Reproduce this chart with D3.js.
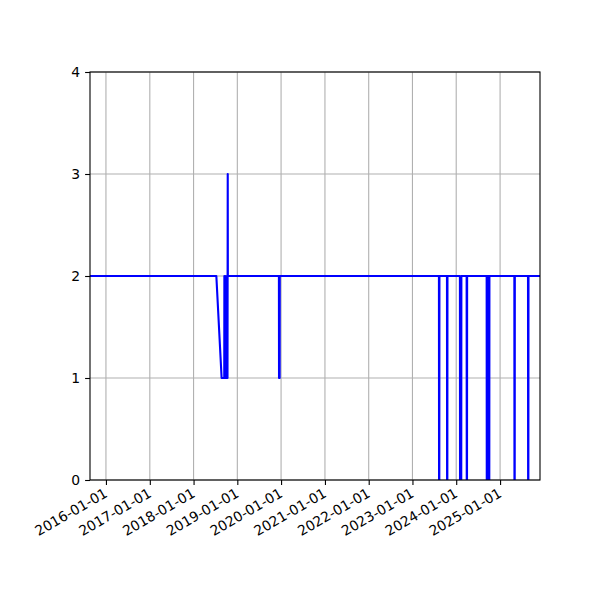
<!DOCTYPE html>
<html>
<head>
<meta charset="utf-8">
<script src="https://cdn.jsdelivr.net/npm/d3@7"></script>
<style>
  body { margin: 0; background: #fff; }
  svg { font-family: "DejaVu Sans", sans-serif; }
</style>
</head>
<body>
<div id="chart"></div>
<script>
// change points of the series (value holds until the next date, lines are drawn point to point)
const dates = [
    '2015-08-21', '2018-07-10', '2018-08-23', '2018-09-14', '2018-09-15', '2018-09-16',
    '2018-09-25', '2018-09-26', '2018-09-27', '2018-10-06', '2018-10-07', '2018-10-08',
    '2018-10-11', '2018-10-12', '2018-10-13', '2018-10-14',
    '2019-12-14', '2019-12-15', '2019-12-20', '2019-12-21',
    '2023-08-10', '2023-08-11', '2023-08-13', '2023-08-14',
    '2023-10-16', '2023-10-17', '2023-10-19', '2023-10-20',
    '2024-02-01', '2024-02-02', '2024-02-12', '2024-02-13',
    '2024-03-28', '2024-03-29', '2024-03-31', '2024-04-01',
    '2024-09-11', '2024-09-12', '2024-09-14', '2024-09-15',
    '2024-09-30', '2024-10-01', '2024-10-03', '2024-10-04',
    '2025-04-30', '2025-05-01', '2025-05-03', '2025-05-04',
    '2025-08-22', '2025-08-23', '2025-08-25', '2025-08-26',
    '2025-11-30'
];
const values = [
    2, 2, 1, 1, 2, 1,
    1, 2, 1, 1, 2, 1,
    1, 2, 3, 2,
    2, 1, 1, 2,
    2, 0, 0, 2,
    2, 0, 0, 2,
    2, 0, 0, 2,
    2, 0, 0, 2,
    2, 0, 0, 2,
    2, 0, 0, 2,
    2, 0, 0, 2,
    2, 0, 0, 2,
    2
];
const xDomain = ['2015-08-21', '2025-11-30'];
const xTicks = ['2016-01-01', '2017-01-01', '2018-01-01', '2019-01-01', '2020-01-01',
    '2021-01-01', '2022-01-01', '2023-01-01', '2024-01-01', '2025-01-01'];
const yTicks = [0, 1, 2, 3, 4];

const width = 600, height = 600;
const margin = { left: 90, right: 60, top: 72, bottom: 120 };
const parse = d3.utcParse('%Y-%m-%d');
const fmt = d3.utcFormat('%Y-%m-%d');

const data = dates.map((d, i) => ({ date: parse(d), value: values[i] }));

const svg = d3.select('#chart').append('svg')
    .attr('width', width)
    .attr('height', height);

const x = d3.scaleUtc()
    .domain(xDomain.map(parse))
    .range([margin.left, width - margin.right]);

const y = d3.scaleLinear()
    .domain([0, 4])
    .range([height - margin.bottom, margin.top]);

// grid
svg.append('g')
    .selectAll('line.vgrid')
    .data(xTicks.map(parse))
    .enter()
    .append('line')
    .attr('x1', d => x(d)).attr('x2', d => x(d))
    .attr('y1', margin.top).attr('y2', height - margin.bottom)
    .attr('stroke', '#b0b0b0')
    .attr('stroke-width', 1.1);

svg.append('g')
    .selectAll('line.hgrid')
    .data(yTicks)
    .enter()
    .append('line')
    .attr('x1', margin.left).attr('x2', width - margin.right)
    .attr('y1', d => y(d)).attr('y2', d => y(d))
    .attr('stroke', '#b0b0b0')
    .attr('stroke-width', 1.1);

svg.append('clipPath')
    .attr('id', 'plot-clip')
    .append('rect')
    .attr('x', margin.left)
    .attr('y', margin.top)
    .attr('width', width - margin.left - margin.right)
    .attr('height', height - margin.top - margin.bottom);

const line = d3.line()
    .x(d => x(d.date))
    .y(d => y(d.value));

svg.append('path')
    .datum(data)
    .attr('clip-path', 'url(#plot-clip)')
    .attr('fill', 'none')
    .attr('stroke', '#0000ff')
    .attr('stroke-width', 2.1)
    .attr('stroke-linejoin', 'round')
    .attr('d', line);

// frame
svg.append('rect')
    .attr('x', margin.left)
    .attr('y', margin.top)
    .attr('width', width - margin.left - margin.right)
    .attr('height', height - margin.top - margin.bottom)
    .attr('fill', 'none')
    .attr('stroke', '#000')
    .attr('stroke-width', 1.1);

// x axis
const xAxis = svg.append('g')
    .attr('transform', `translate(0, ${height - margin.bottom})`)
    .call(d3.axisBottom(x)
        .tickValues(xTicks.map(parse))
        .tickFormat(fmt)
        .tickSize(4.9)
        .tickSizeOuter(0));
xAxis.select('.domain').remove();
xAxis.selectAll('line').attr('stroke', '#000').attr('stroke-width', 1.1);
xAxis.selectAll('text')
    .attr('font-size', 13.9)
    .attr('font-family', '"DejaVu Sans", sans-serif')
    .attr('fill', '#000')
    .attr('x', 2)
    .attr('y', 16)
    .attr('dy', 0)
    .attr('transform', 'rotate(-30, 2, 16)')
    .style('text-anchor', 'end');

// y axis
const yAxis = svg.append('g')
    .attr('transform', `translate(${margin.left}, 0)`)
    .call(d3.axisLeft(y)
        .tickValues(yTicks)
        .tickFormat(d3.format('d'))
        .tickSize(4.9)
        .tickPadding(4.9)
        .tickSizeOuter(0));
yAxis.select('.domain').remove();
yAxis.selectAll('line').attr('stroke', '#000').attr('stroke-width', 1.1);
yAxis.selectAll('text')
    .attr('font-size', 13.9)
    .attr('font-family', '"DejaVu Sans", sans-serif')
    .attr('fill', '#000');
</script>
</body>
</html>
